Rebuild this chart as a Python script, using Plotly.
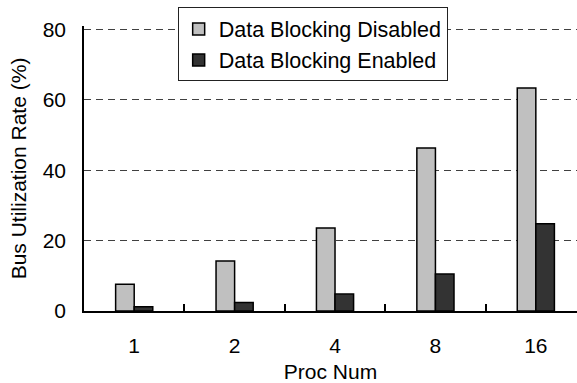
import plotly.graph_objects as go

# Bus utilization vs. processor count, with and without data blocking
proc_nums = ["1", "2", "4", "8", "16"]
blocking_disabled = [7.6, 14.2, 23.6, 46.3, 63.4]
blocking_enabled = [1.2, 2.4, 4.8, 10.5, 24.8]
y_ticks = [0, 20, 40, 60, 80]

FONT = "Liberation Sans, Arial, sans-serif"
GRID = "#404040"
DASH = "7px,5px"

fig = go.Figure()
fig.add_trace(go.Bar(
    x=proc_nums, y=blocking_disabled, name="Data Blocking Disabled",
    marker=dict(color="#c0c0c0", line=dict(color="#000000", width=1.5)),
))
fig.add_trace(go.Bar(
    x=proc_nums, y=blocking_enabled, name="Data Blocking Enabled",
    marker=dict(color="#333333", line=dict(color="#000000", width=1.5)),
))

fig.update_layout(
    width=577, height=383,
    # range tops out a little above 80 so the 80 gridline is drawn
    margin=dict(l=84, r=0, t=26, b=71.5),
    paper_bgcolor="white", plot_bgcolor="white",
    font=dict(family=FONT, size=21, color="#000000"),
    barmode="group", bargap=0.63, bargroupgap=0,
    showlegend=True,
    legend=dict(
        x=0.19, y=1.065, xanchor="left", yanchor="top",
        bgcolor="white", bordercolor="#222222", borderwidth=1,
        font=dict(family=FONT, size=21.5),
        tracegroupgap=0,
    ),
    xaxis=dict(
        type="category", range=[-0.5, 4.41],
        showline=True, linecolor="#000000", linewidth=1.5,
        ticks="inside", tickson="boundaries", ticklen=7,
        tickcolor="#000000", tickwidth=1.5,
        ticklabelstandoff=15,
        showgrid=False, zeroline=False,
        title=dict(text="Proc Num", standoff=10,
                   font=dict(family=FONT, size=21)),
    ),
    yaxis=dict(
        range=[0, 81], tickvals=y_ticks,
        showline=True, linecolor="#000000", linewidth=1.5,
        ticks="", ticklabelstandoff=12,
        showgrid=True, gridcolor=GRID, gridwidth=1,
        griddash=DASH, zeroline=False,
        title=dict(text="Bus Utilization Rate (%)", standoff=10,
                   font=dict(family=FONT, size=21)),
    ),
)

fig.write_html("out.html")
